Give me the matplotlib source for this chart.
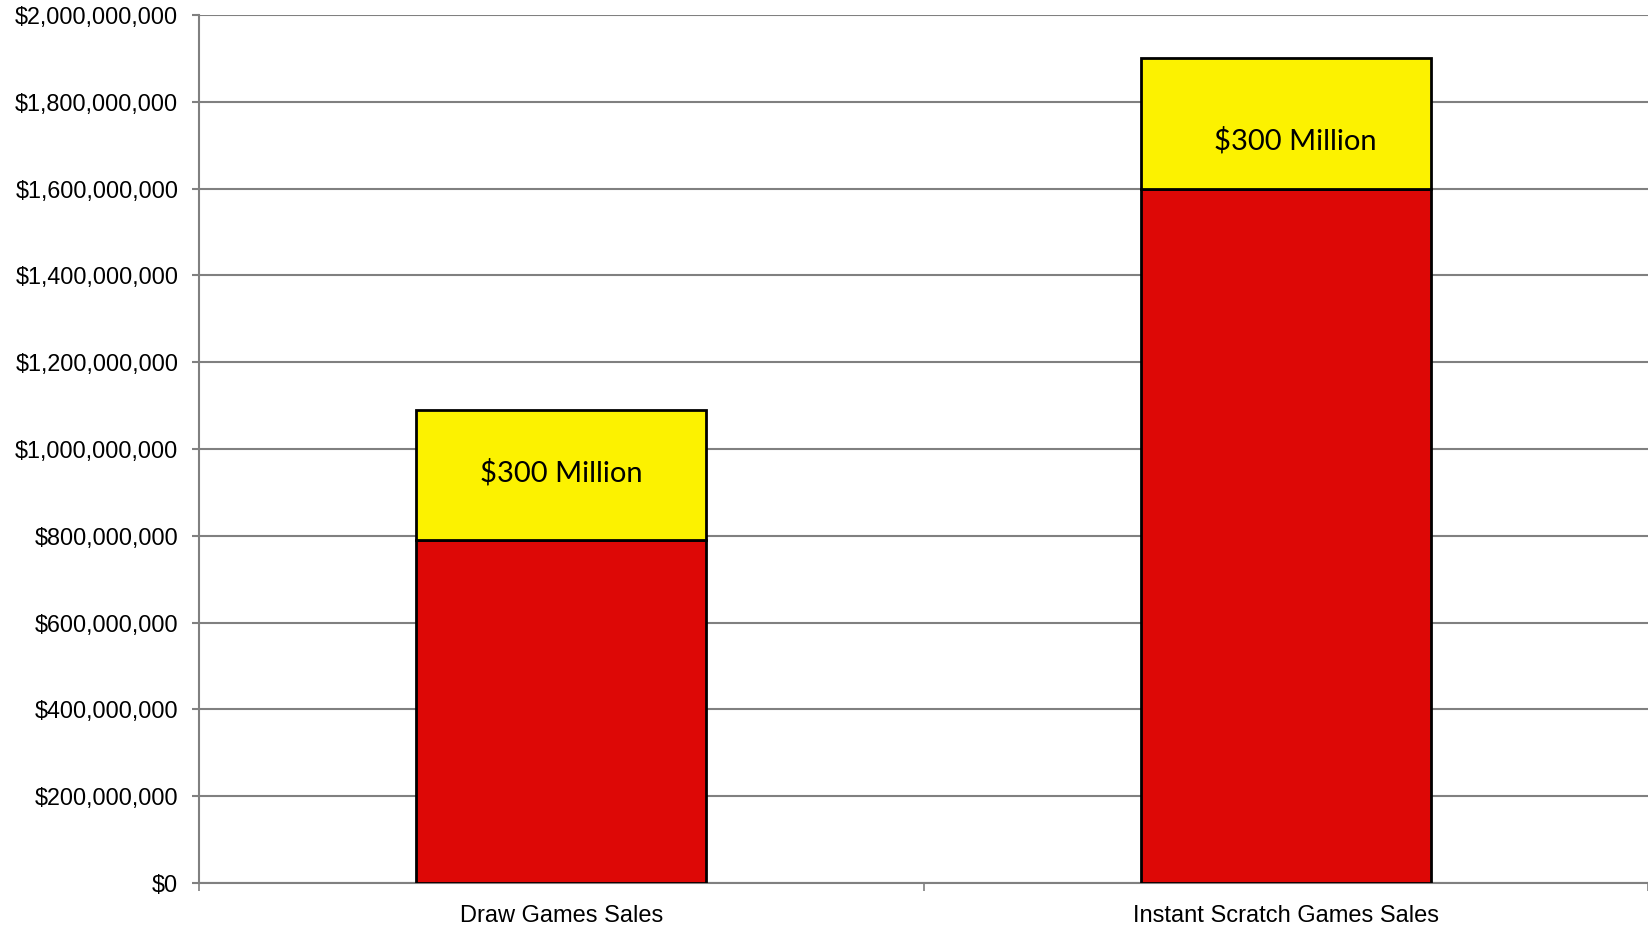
import matplotlib
matplotlib.use("Agg")
import matplotlib.pyplot as plt
from matplotlib.ticker import FuncFormatter, FixedLocator

categories = ["Draw Games Sales", "Instant Scratch Games Sales"]
base_sales = [790_000_000, 1_600_000_000]
extra_sales = [300_000_000, 300_000_000]
extra_labels = ["$300 Million", "$300 Million"]
y_ticks = list(range(0, 2_000_000_001, 200_000_000))

red = "#DD0806"
yellow = "#FCF200"
grid_gray = "#808080"

fig = plt.figure(figsize=(16.48, 9.25), dpi=100)
ax = fig.add_axes([0.1208, 0.0454, 0.8792, 0.9384])

x = list(range(len(categories)))
ax.bar(x, base_sales, width=0.4, color=red, edgecolor="black", linewidth=2, zorder=3)
ax.bar(x, extra_sales, bottom=base_sales, width=0.4, color=yellow, edgecolor="black",
       linewidth=2, zorder=3)

offsets = [(0, 2), (10, -17)]
for xi, b, e, lab, off in zip(x, base_sales, extra_sales, extra_labels, offsets):
    ax.annotate(lab, (xi, b + e / 2), xytext=off, textcoords="offset pixels",
                ha="center", va="center", fontsize=21, family="Lato", zorder=4)

ax.set_xlim(-0.5, 1.5)
ax.set_ylim(0, 2_000_000_000)
ax.set_yticks(y_ticks)
ax.yaxis.set_major_formatter(FuncFormatter(lambda v, p: f"${v:,.0f}"))
ax.yaxis.grid(True, color=grid_gray, linewidth=1.5, zorder=0)
ax.set_axisbelow(True)

ax.set_xticks(x)
ax.set_xticklabels(categories, fontsize=17, family="Liberation Sans")
ax.xaxis.set_minor_locator(FixedLocator([-0.5, 0.5, 1.5]))
ax.tick_params(axis="x", which="major", length=0, pad=15.5)
ax.tick_params(axis="x", which="minor", length=6, width=1.2, color=grid_gray, direction="out")
ax.tick_params(axis="y", length=5, width=1.5, color=grid_gray, pad=10, labelsize=16.8)
for lab in ax.get_yticklabels():
    lab.set_family("Liberation Sans")

for s in ["top", "right"]:
    ax.spines[s].set_visible(False)
for s in ["left", "bottom"]:
    ax.spines[s].set_color(grid_gray)
    ax.spines[s].set_linewidth(1.5)

fig.savefig("out.png", dpi=100, facecolor="white")
